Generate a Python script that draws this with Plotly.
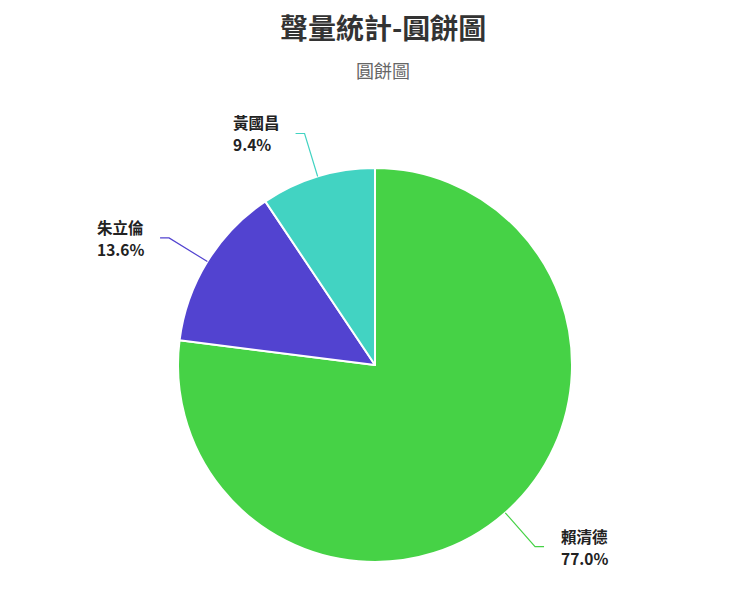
import math
import plotly.graph_objects as go

# data
names = ["賴清德", "朱立倫", "黃國昌"]
shares = [77.0, 13.6, 9.4]
colors = ["#46d246", "#5243d0", "#42d3c2"]

W, H = 750, 600
off = 8  # page body margin
cx, cy, r = 375 - off, 365 - off, 197  # pie centre / radius in px

fig = go.Figure(
    go.Pie(
        labels=names,
        values=shares,
        sort=False,
        direction="clockwise",
        rotation=0,
        textinfo="none",
        hoverinfo="label+percent",
        marker=dict(colors=colors, line=dict(color="white", width=2)),
        domain=dict(
            x=[(cx - r) / W, (cx + r) / W],
            y=[(H - cy - r) / H, (H - cy + r) / H],
        ),
        showlegend=False,
    )
)

# leader lines + labels, placed from each slice's middle angle
total = sum(shares)
start = 0.0
for name, v, col in zip(names, shares, colors):
    mid = (start + v / 2) / total * 2 * math.pi
    start += v
    dx, dy = math.sin(mid), -math.cos(mid)
    x0, y0 = cx + r * dx, cy + r * dy
    x1, y1 = cx + (r + 45) * dx, cy + (r + 45) * dy
    side = 1 if dx >= 0 else -1
    x2 = x1 + side * 9
    path = f"M {x0/W} {1-y0/H} L {x1/W} {1-y1/H} L {x2/W} {1-y1/H}"
    fig.add_shape(type="path", path=path, xref="paper", yref="paper",
                  line=dict(color=col, width=1.2))
    # two lines of text: name above, percent below; block aligned left
    tx = x2 + side * 16 if side > 0 else x2 - 16 - 48
    for txt, ty in [(name, y1 - 11), (f"{v:.1f}%", y1 + 11)]:
        fig.add_annotation(
            x=tx / W, y=1 - ty / H, xref="paper", yref="paper",
            text=f"<b>{txt}</b>", showarrow=False,
            xanchor="left", yanchor="middle", borderpad=0,
            font=dict(size=15.5, color="#222"),
        )

fig.add_annotation(
    x=0.5, y=1 - (27 - off) / H, xref="paper", yref="paper", showarrow=False,
    xanchor="center", yanchor="middle",
    text="<b>聲量統計-圓餅圖</b>", font=dict(size=28, color="#333"),
)
fig.add_annotation(
    x=0.5, y=1 - (70 - off) / H, xref="paper", yref="paper", showarrow=False,
    xanchor="center", yanchor="middle",
    text="圓餅圖", font=dict(size=18, color="#666"),
)

fig.update_layout(
    width=W, height=H,
    margin=dict(l=0, r=0, t=0, b=0),
    paper_bgcolor="white",
    font=dict(family="Noto Sans CJK TC, Noto Sans, sans-serif"),
)

fig.write_html("out.html")
